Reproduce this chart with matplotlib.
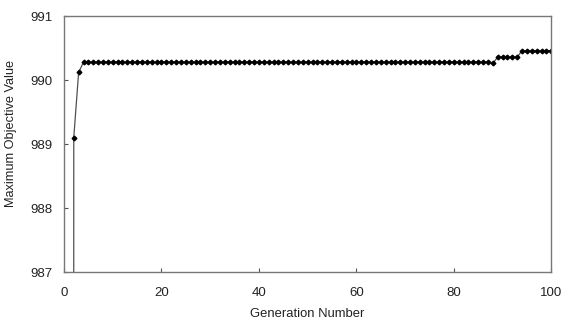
import numpy as np
import matplotlib
matplotlib.use("Agg")
import matplotlib.pyplot as plt

plt.rcParams['font.family'] = ['Liberation Sans', 'DejaVu Sans']

# generations 1..100, best objective per generation
generations = list(range(1, 101))
best_value = ([0.0, 989.10, 990.12]
              + [990.28] * 84      # gen 4 .. 87
              + [990.26]           # gen 88
              + [990.36] * 5       # gen 89 .. 93
              + [990.46] * 7)      # gen 94 .. 100

x_ticks = [0, 20, 40, 60, 80, 100]
y_ticks = [987, 988, 989, 990, 991]

fig = plt.figure(figsize=(5.64, 3.22), dpi=100)
ax = fig.add_axes([0.1135, 0.155, 0.864, 0.795])

ax.plot(generations, best_value, color='#505050', lw=0.9,
        marker='D', markersize=2.4, markerfacecolor='black',
        markeredgecolor='black')

ax.set_xlim(0, 100)
ax.set_ylim(987, 991)
ax.set_xticks(x_ticks)
ax.set_yticks(y_ticks)
ax.tick_params(direction='in', length=3, width=0.8, colors='#555555',
               labelcolor='#222222', labelsize=9.5)
ax.tick_params(axis='x', pad=11)
ax.tick_params(axis='y', pad=8)

for s in ax.spines.values():
    s.set_color('#777777')
    s.set_linewidth(1.0)

ax.set_xlabel('Generation Number', fontsize=9.4, color='#222222', labelpad=6)
ax.set_ylabel('Maximum Objective Value', fontsize=9.2, color='#222222')
ax.yaxis.set_label_coords(-0.097, 0.54)

fig.savefig('out.png', dpi=100)
